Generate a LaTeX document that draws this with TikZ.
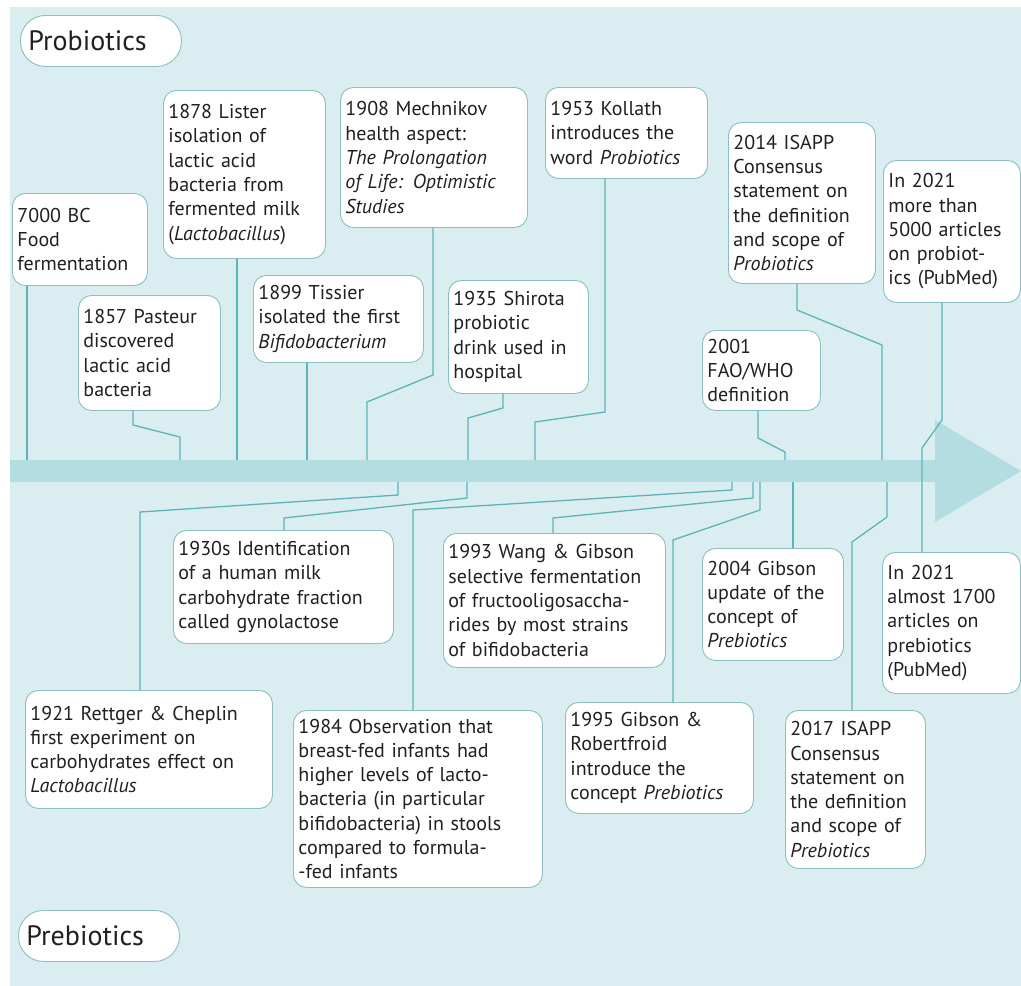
\documentclass[tikz,border=0pt]{standalone}
\usepackage{fontspec}
\setmainfont{PT Sans}
\usepackage{tikz}

\definecolor{bgcol}{HTML}{DAEEF1}
\definecolor{bandcol}{HTML}{B3DDE0}
\definecolor{linecol}{HTML}{5DB3B7}
\definecolor{framecol}{HTML}{8CBEC2}
\definecolor{inkcol}{HTML}{231F20}

\begin{document}
\begin{tikzpicture}[x=1pt,y=-1pt,
    event/.style={draw=framecol,fill=white,line width=0.9pt,rounded corners=13pt,
        anchor=north west,align=left,inner xsep=5pt,inner ysep=4pt,text=inkcol,
        font=\fontsize{20}{24.3}\selectfont},
    tag/.style={draw=framecol,fill=white,line width=0.9pt,rounded corners=25pt,
        anchor=north west,align=left,text width=145pt,inner xsep=8pt,
        minimum height=51pt,text=inkcol,font=\fontsize{28}{30}\selectfont},
    link/.style={draw=linecol,line width=1.3pt}]
    \useasboundingbox (0,0) rectangle (1021,986);
    \fill [bgcol] (10,7) rectangle (1021,986);
    \fill [bandcol] (10,460) rectangle (936,482);
    \fill [bandcol] (935,420) -- (1021,471) -- (935,522) -- cycle;

    \node [tag] (pro) at (20,15) {Probiotics};
    \node [tag] (pre) at (18,910) {Prebiotics};

    \node [event,text width=125pt,minimum height=92pt]  (n7000) at (12,193)  {7000 BC\\Food\\fermentation};
    \node [event,text width=132pt,minimum height=115pt] (n1857) at (78,295)  {1857 Pasteur\\discovered\\lactic acid\\bacteria};
    \node [event,text width=152pt,minimum height=168pt] (n1878) at (163,90)  {1878 Lister\\isolation of\\lactic acid\\bacteria from\\fermented milk\\(\textit{Lactobacillus})};
    \node [event,text width=160pt,minimum height=87pt]  (n1899) at (253,275) {1899 Tissier\\isolated the first\\\textit{Bifidobacterium}};
    \node [event,text width=177pt,minimum height=140pt] (n1908) at (340,87)  {1908 Mechnikov\\health aspect:\\\textit{The Prolongation}\\\textit{of Life: Optimistic}\\\textit{Studies}};
    \node [event,text width=130pt,minimum height=113pt] (n1935) at (448,280) {1935 Shirota\\probiotic\\drink used in\\hospital};
    \node [event,text width=152pt,minimum height=91pt]  (n1953) at (545,87)  {1953 Kollath\\introduces the\\word \textit{Probiotics}};
    \node [event,text width=108pt,minimum height=80pt]  (n2001) at (702,330) {2001\\FAO/WHO\\definition};
    \node [event,text width=137pt,minimum height=161pt] (n2014) at (728,122) {2014 ISAPP\\Consensus\\statement on\\the definition\\and scope of\\\textit{Probiotics}};
    \node [event,text width=127pt,minimum height=142pt] (n2021a) at (883,160) {In 2021\\more than\\5000 articles\\on probiot-\\ics (PubMed)};

    \node [event,text width=237pt,minimum height=118pt] (n1921) at (25,690)  {1921 Rettger \& Cheplin\\first experiment on\\carbohydrates effect on\\\textit{Lactobacillus}};
    \node [event,text width=210pt,minimum height=113pt] (n1930) at (173,530) {1930s Identification\\of a human milk\\carbohydrate fraction\\called gynolactose};
    \node [event,text width=239pt,minimum height=177pt] (n1984) at (293,710) {1984 Observation that\\breast-fed infants had\\higher levels of lacto-\\bacteria (in particular\\bifidobacteria) in stools\\compared to formula-\\-fed infants};
    \node [event,text width=212pt,minimum height=134pt] (n1993) at (443,533) {1993 Wang \& Gibson\\selective fermentation\\of fructooligosaccha-\\rides by most strains\\of bifidobacteria};
    \node [event,text width=178pt,minimum height=111pt] (n1995) at (565,702) {1995 Gibson \&\\Robertfroid\\introduce the\\concept \textit{Prebiotics}};
    \node [event,text width=131pt,minimum height=112pt] (n2004) at (702,548) {2004 Gibson\\update of the\\concept of\\\textit{Prebiotics}};
    \node [event,text width=130pt,minimum height=158pt] (n2017) at (785,710) {2017 ISAPP\\Consensus\\statement on\\the definition\\and scope of\\\textit{Prebiotics}};
    \node [event,text width=128pt,minimum height=141pt] (n2021b) at (882,552) {In 2021\\almost 1700\\articles on\\prebiotics\\(PubMed)};

    \foreach \name/\x in {7000/27,1857/180,1878/237,1899/307,1908/367,1935/468,1953/535,2001/785,2014/882}
        \coordinate (t\name) at (\x,460);
    \foreach \name/\x in {1921/398,1930/467,1984/732,1993/753,1995/760,2004/793,2017/887}
        \coordinate (b\name) at (\x,482);

    \draw [link] (n7000.south -| t7000) -- (t7000);
    \draw [link] (n1857.south -| 133,0) -- (133,425) -- (180,437) -- (t1857);
    \draw [link] (n1878.south -| t1878) -- (t1878);
    \draw [link] (n1899.south -| t1899) -- (t1899);
    \draw [link] (n1908.south -| 433,0) -- (433,375) -- (367,402) -- (t1908);
    \draw [link] (n1935.south -| 503,0) -- (503,408) -- (468,418) -- (t1935);
    \draw [link] (n1953.south -| 605,0) -- (605,412) -- (535,422) -- (t1953);
    \draw [link] (n2001.south -| 758,0) -- (758,438) -- (785,452) -- (t2001);
    \draw [link] (n2014.south -| 797,0) -- (797,310) -- (882,345) -- (t2014);
    \draw [link] (n2021a.south -| 942,0) -- (942,420) -- (922,448) -- (n2021b.north -| 922,0);

    \draw [link] (b1921) -- (398,495) -- (140,512) -- (n1921.north -| 140,0);
    \draw [link] (b1930) -- (467,498) -- (284,518) -- (n1930.north -| 284,0);
    \draw [link] (b1984) -- (732,490) -- (413,510) -- (n1984.north -| 413,0);
    \draw [link] (b1993) -- (753,498) -- (553,518) -- (n1993.north -| 553,0);
    \draw [link] (b1995) -- (760,510) -- (673,540) -- (n1995.north -| 673,0);
    \draw [link] (b2004) -- (n2004.north -| b2004);
    \draw [link] (b2017) -- (887,517) -- (852,542) -- (n2017.north -| 852,0);
\end{tikzpicture}
\end{document}
